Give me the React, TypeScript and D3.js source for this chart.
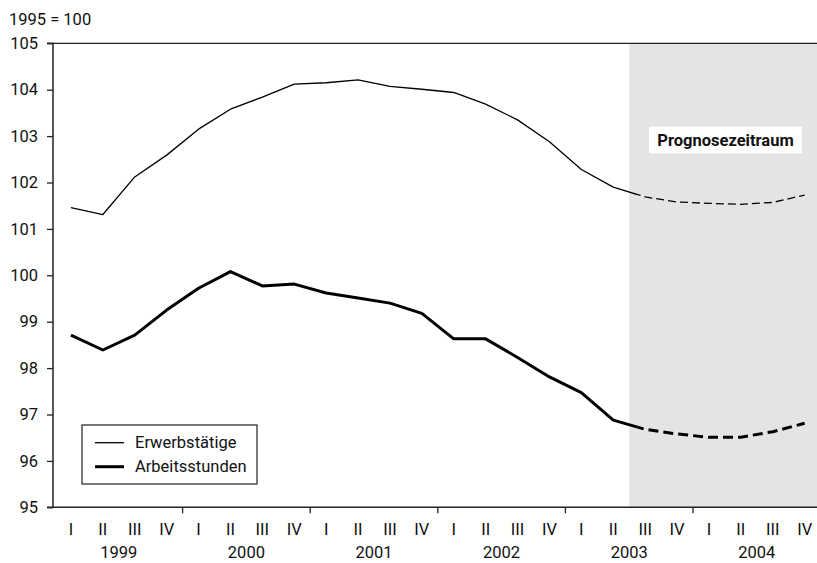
import { useRef, useEffect } from 'react'
import * as d3 from 'd3'

const years = ['1999', '2000', '2001', '2002', '2003', '2004']
const quarterLabels = ['I', 'II', 'III', 'IV']
const quarters = years.flatMap((y) => quarterLabels.map((q) => `${y}-${q}`))

// 1995 = 100, quarterly
const erwerbstaetige = [
  101.46, 101.31, 102.12, 102.59, 103.15, 103.58, 103.84, 104.12, 104.15, 104.21, 104.07, 104.01,
  103.94, 103.69, 103.35, 102.88, 102.28, 101.9, 101.69, 101.58, 101.55, 101.53, 101.57, 101.73,
]
const arbeitsstunden = [
  98.71, 98.39, 98.71, 99.25, 99.72, 100.08, 99.77, 99.81, 99.62, 99.51, 99.4, 99.18,
  98.63, 98.63, 98.23, 97.81, 97.47, 96.88, 96.68, 96.58, 96.51, 96.51, 96.63, 96.81,
]
const forecastFrom = '2003-III'
const yTicks = [95, 96, 97, 98, 99, 100, 101, 102, 103, 104, 105]

const FONT = 'Roboto, "Open Sans", sans-serif'
const FS = 16.5

export default function App() {
  const svgRef = useRef<SVGSVGElement>(null)

  useEffect(() => {
    if (!svgRef.current) return
    const svg = d3.select(svgRef.current)
    svg.selectAll('*').remove()

    const width = 817
    const height = 563
    const left = 53
    const top = 43.3
    const bottom = 507.3

    const x = d3.scaleBand<string>().domain(quarters).range([55, 55 + 24 * 31.9]).padding(0)
    const cx = (q: string) => (x(q) as number) + x.bandwidth() / 2
    const y = d3.scaleLinear().domain([95, 105]).range([bottom, top])
    const grayX = x(forecastFrom) as number
    const cut = grayX + 8

    // forecast shading
    svg.append('rect')
      .attr('x', grayX)
      .attr('y', top)
      .attr('width', width - grayX)
      .attr('height', bottom - top)
      .attr('fill', '#e4e4e4')

    // top frame line
    svg.append('line')
      .attr('x1', left).attr('x2', width)
      .attr('y1', top).attr('y2', top)
      .attr('stroke', '#222').attr('stroke-width', 1.3)

    // y axis
    const yAxis = d3.axisLeft(y).tickValues(yTicks).tickSize(6).tickPadding(9).tickFormat((d) => String(d))
    svg.append('g')
      .attr('transform', `translate(${left},0)`)
      .call(yAxis)
      .call((g) => g.select('.domain').attr('stroke', '#222').attr('stroke-width', 1.5).attr('d', `M-6,${top}H0V${bottom}H-6`))
      .call((g) => g.selectAll('.tick line').attr('stroke', '#222').attr('stroke-width', 1.3))
      .call((g) => g.selectAll('.tick text').attr('fill', '#111').attr('font-size', FS).attr('font-family', FONT))

    // x axis line
    svg.append('line')
      .attr('x1', left).attr('x2', width)
      .attr('y1', bottom).attr('y2', bottom)
      .attr('stroke', '#222').attr('stroke-width', 1.5)

    // year separators
    svg.append('g')
      .selectAll('line')
      .data(years.slice(1))
      .join('line')
      .attr('x1', (d) => x(`${d}-I`) as number)
      .attr('x2', (d) => x(`${d}-I`) as number)
      .attr('y1', bottom)
      .attr('y2', bottom + 6)
      .attr('stroke', '#222')
      .attr('stroke-width', 1.3)

    // quarter labels
    svg.append('g')
      .selectAll('text')
      .data(quarters)
      .join('text')
      .attr('x', (d) => cx(d))
      .attr('y', 535)
      .attr('text-anchor', 'middle')
      .attr('font-size', FS)
      .attr('font-family', FONT)
      .attr('fill', '#111')
      .text((d) => d.split('-')[1])

    // year labels
    svg.append('g')
      .selectAll('text')
      .data(years)
      .join('text')
      .attr('x', (d) => (cx(`${d}-II`) + cx(`${d}-III`)) / 2)
      .attr('y', 558)
      .attr('text-anchor', 'middle')
      .attr('font-size', FS)
      .attr('font-family', FONT)
      .attr('fill', '#111')
      .text((d) => d)

    // title
    svg.append('text')
      .attr('x', 9).attr('y', 25)
      .attr('font-size', FS)
      .attr('font-family', FONT)
      .attr('fill', '#111')
      .text('1995 = 100')

    // label box
    svg.append('rect')
      .attr('x', 649).attr('y', 126.7)
      .attr('width', 153).attr('height', 26.6)
      .attr('fill', '#fff')
    svg.append('text')
      .attr('x', 725.5).attr('y', 145.5)
      .attr('text-anchor', 'middle')
      .attr('font-size', FS)
      .attr('font-weight', 'bold')
      .attr('font-family', FONT)
      .attr('fill', '#111')
      .text('Prognosezeitraum')

    // clip regions: solid before the forecast, dashed after
    const defs = svg.append('defs')
    defs.append('clipPath').attr('id', 'clip-actual')
      .append('rect').attr('x', 0).attr('y', 0).attr('width', cut).attr('height', height)
    defs.append('clipPath').attr('id', 'clip-forecast')
      .append('rect').attr('x', cut).attr('y', 0).attr('width', width - cut).attr('height', height)

    const line = d3.line<number>().x((_, i) => cx(quarters[i])).y((d) => y(d))

    const series = [
      { values: erwerbstaetige, w: 1.3, dash: '8,4' },
      { values: arbeitsstunden, w: 3, dash: '10,5' },
    ]
    for (const s of series) {
      svg.append('path')
        .attr('d', line(s.values))
        .attr('clip-path', 'url(#clip-actual)')
        .attr('fill', 'none').attr('stroke', '#000')
        .attr('stroke-width', s.w).attr('stroke-linejoin', 'round')
      svg.append('path')
        .attr('d', line(s.values))
        .attr('clip-path', 'url(#clip-forecast)')
        .attr('fill', 'none').attr('stroke', '#000')
        .attr('stroke-width', s.w)
        .attr('stroke-dasharray', s.dash)
    }

    // legend
    const lg = svg.append('g')
    lg.append('rect')
      .attr('x', 82).attr('y', 425)
      .attr('width', 175).attr('height', 59)
      .attr('fill', '#fff').attr('stroke', '#222').attr('stroke-width', 1.2)
    const items = [
      { label: 'Erwerbstätige', w: 1.3, yy: 442.7 },
      { label: 'Arbeitsstunden', w: 3, yy: 466.7 },
    ]
    for (const it of items) {
      lg.append('line')
        .attr('x1', 95).attr('x2', 124)
        .attr('y1', it.yy).attr('y2', it.yy)
        .attr('stroke', '#000').attr('stroke-width', it.w)
      lg.append('text')
        .attr('x', 135).attr('y', it.yy)
        .attr('dy', '0.35em')
        .attr('font-size', FS)
        .attr('font-family', FONT)
        .attr('fill', '#111')
        .text(it.label)
    }
  }, [])

  return (
    <div style={{ position: 'absolute', left: 0, top: 0 }}>
      <svg ref={svgRef} width={817} height={563} style={{ display: 'block', background: '#fff' }} />
    </div>
  )
}
